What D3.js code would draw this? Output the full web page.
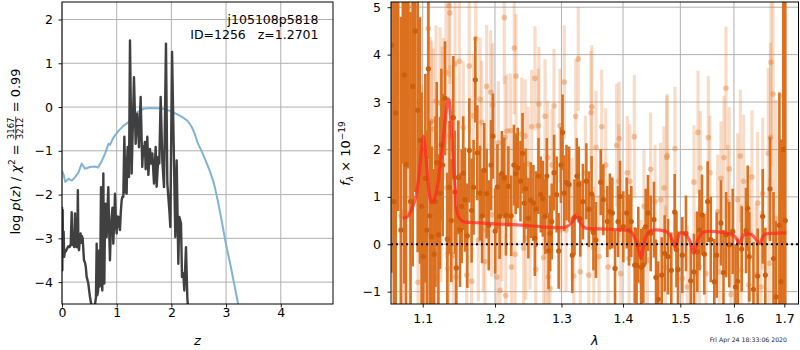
<!DOCTYPE html>
<html>
<head>
<meta charset="utf-8">
<script src="https://cdn.jsdelivr.net/npm/d3@7"></script>
<style>
  body { margin: 0; background: #fff; }
  svg { display: block; }
  text { font-family: "DejaVu Sans", sans-serif; }
</style>
</head>
<body>
<svg id="fig" width="800" height="350"></svg>
<script>
// ---------- redshift probability panel ----------
const zTicks = [0, 1, 2, 3, 4];
const logpTicks = [-4, -3, -2, -1, 0, 1, 2];

// log p(z) of the fit (z, log p)
const pzFit = [
  [0.000,-2.28],[0.006,-3.73],[0.012,-2.35],[0.020,-3.40],[0.030,-2.85],[0.040,-3.42],[0.055,-3.28],
  [0.070,-3.30],[0.085,-3.25],[0.100,-3.22],[0.115,-3.18],[0.130,-3.20],[0.146,-3.19],[0.160,-3.12],
  [0.177,-2.40],[0.190,-3.15],[0.207,-3.12],[0.222,-3.20],[0.238,-2.43],[0.252,-3.16],[0.268,-3.20],
  [0.280,-3.05],[0.290,-1.90],[0.300,-3.20],[0.311,-3.27],[0.325,-3.05],[0.341,-2.89],[0.355,-3.10],
  [0.365,-2.95],[0.378,-3.00],[0.392,-3.30],[0.402,-3.50],[0.420,-3.55],[0.435,-3.65],[0.451,-3.88],
  [0.466,-3.95],[0.481,-4.03],[0.497,-4.20],[0.512,-4.34],[0.527,-4.45],[0.542,-4.55],[0.573,-4.60],
  [0.600,-4.55],[0.621,-4.34],[0.634,-3.12],[0.645,-4.30],[0.660,-4.20],[0.682,-3.27],[0.690,-4.10],
  [0.700,-3.60],[0.713,-1.83],[0.725,-3.90],[0.737,-4.19],[0.748,-2.80],[0.756,-1.52],[0.766,-3.80],
  [0.774,-4.03],[0.786,-2.60],[0.798,-2.21],[0.808,-2.90],[0.816,-2.97],[0.830,-2.40],[0.847,-1.83],
  [0.862,-2.80],[0.877,-3.50],[0.893,-2.80],[0.908,-2.51],[0.923,-2.30],[0.938,-3.12],[0.955,-2.60],
  [0.969,-1.98],[0.985,-2.60],[0.999,-2.89],[1.015,-2.50],[1.030,-2.51],[1.045,-2.70],[1.060,-2.81],
  [1.075,-2.40],[1.091,-2.13],[1.105,-2.05],[1.121,-2.05],[1.130,-1.40],[1.140,-0.68],[1.150,-1.30],
  [1.160,-1.95],[1.172,-1.70],[1.182,-1.98],[1.192,-1.20],[1.201,-0.91],[1.212,-1.45],[1.225,-1.60],
  [1.243,1.52],[1.274,-1.52],[1.316,0.68],[1.347,-0.84],[1.360,-0.30],[1.377,-0.15],[1.408,-0.92],
  [1.438,0.23],[1.468,-1.37],[1.484,-0.90],[1.499,-1.10],[1.515,-0.80],[1.530,-1.42],[1.560,-0.68],
  [1.579,-1.55],[1.609,-0.96],[1.627,-1.29],[1.652,-1.06],[1.682,-1.75],[1.713,-0.91],[1.731,-1.82],
  [1.761,-1.14],[1.779,-1.29],[1.804,0.23],[1.834,-1.22],[1.865,-1.83],[1.901,1.45],[1.926,-1.75],
  [1.963,-2.36],[1.981,-2.74],[2.012,1.26],[2.048,-1.29],[2.072,-2.97],[2.097,-1.22],[2.127,-3.58],
  [2.145,-2.51],[2.176,-2.66],[2.194,-3.88],[2.218,-3.80],[2.236,-4.19],[2.267,-3.20],[2.291,-4.34],
  [2.310,-4.70]
];

// log of the prior curve (z, log p)
const pzPrior = [
  [0.00,-1.45],[0.03,-1.55],[0.06,-1.71],[0.12,-1.64],[0.18,-1.68],[0.24,-1.60],[0.30,-1.50],
  [0.36,-1.29],[0.42,-1.41],[0.51,-1.37],[0.60,-1.36],[0.66,-1.38],[0.72,-1.25],[0.79,-1.06],
  [0.85,-0.84],[0.88,-0.86],[0.94,-0.70],[1.03,-0.55],[1.12,-0.43],[1.21,-0.35],[1.30,-0.22],
  [1.37,-0.12],[1.49,-0.04],[1.61,-0.02],[1.73,-0.03],[1.85,-0.04],[1.98,-0.09],[2.10,-0.16],
  [2.20,-0.23],[2.30,-0.32],[2.37,-0.45],[2.43,-0.62],[2.48,-0.82],[2.55,-1.00],[2.62,-1.20],
  [2.70,-1.45],[2.78,-1.75],[2.85,-2.15],[2.92,-2.60],[2.99,-3.08],[3.08,-3.61],[3.15,-4.05],
  [3.22,-4.50],[3.26,-4.75]
];

const titleLines = ["j105108p5818", "ID=1256   z=1.2701"];

// ---------- spectrum panel ----------
const waveTicks = [1.1, 1.2, 1.3, 1.4, 1.5, 1.6, 1.7];
const fluxTicks = [-1, 0, 1, 2, 3, 4, 5];

// binned spectrum: [wavelength (um), flux, error]
const specBinned = [
  [1.0595,4.20,4.8],[1.0625,0.90,4.7],[1.0648,2.77,4.6],[1.0680,5.50,4.8],[1.0715,0.30,4.5],
  [1.0740,6.20,4.5],[1.0759,3.57,4.4],[1.0781,1.68,4.2],[1.0810,5.80,4.2],[1.0840,0.90,4.0],
  [1.0868,3.33,3.8],[1.0900,4.50,3.4],[1.0934,2.83,3.0],[1.0964,2.19,2.6],[1.0985,0.80,2.4],
  [1.1008,-0.26,2.3],[1.1035,1.39,2.2],[1.1055,0.30,2.1],[1.1075,3.70,1.9],[1.1095,0.60,2.0],
  [1.1119,0.16,1.9],[1.1151,-0.21,1.8],[1.1170,0.90,1.8],[1.1187,1.72,1.7],[1.1210,0.20,1.7],
  [1.1232,1.08,1.6],[1.1250,2.10,1.6],[1.1268,1.67,1.5],[1.1299,3.08,1.2],[1.1331,0.11,1.4],
  [1.1360,1.20,1.4],[1.1385,0.50,1.3],[1.1413,2.67,1.3],[1.1435,1.10,1.3],[1.1454,-0.50,1.3],
  [1.1482,1.41,1.2],[1.1505,0.30,1.2],[1.1528,0.80,1.2],[1.1550,1.50,1.2],[1.1574,0.94,1.1],
  [1.1607,0.18,1.1],[1.1635,1.98,1.1],[1.1667,0.71,1.1],[1.1695,1.20,1.0],[1.1719,3.47,0.9],
  [1.1747,1.93,1.0],[1.1785,1.08,1.0],[1.1815,0.60,1.0],[1.1846,1.56,1.0],[1.1880,1.07,0.95],
  [1.1910,0.40,0.95],[1.1943,1.67,0.95],[1.1970,2.28,0.9],[1.2003,0.28,0.9],[1.2035,1.21,0.9],
  [1.2068,0.59,0.9],[1.2100,1.49,0.9],[1.2134,1.40,0.85],[1.2160,0.61,0.85],[1.2195,1.22,0.85],
  [1.2236,0.60,0.85],[1.2277,1.67,0.85],[1.2303,1.49,0.85],[1.2333,1.61,0.85],[1.2374,1.33,0.85],
  [1.2405,1.92,0.85],[1.2430,0.87,0.85],[1.2451,1.17,0.85],[1.2492,0.55,0.85],[1.2527,0.93,0.8],
  [1.2568,0.87,0.8],[1.2590,0.13,0.8],[1.2609,0.74,0.8],[1.2645,1.44,0.8],[1.2680,1.05,0.8],
  [1.2711,0.96,0.8],[1.2747,0.59,0.8],[1.2772,1.44,0.8],[1.2800,-0.14,0.8],[1.2823,0.23,0.8],
  [1.2849,0.48,0.8],[1.2885,1.51,0.8],[1.2925,1.05,0.8],[1.2956,-0.14,0.8],[1.2992,1.67,0.8],
  [1.3017,2.36,0.8],[1.3043,1.08,0.8],[1.3079,1.30,0.8],[1.3120,1.26,0.8],[1.3171,-0.23,0.8],
  [1.3206,0.57,0.8],[1.3242,1.44,0.8],[1.3273,1.26,0.8],[1.3298,0.54,0.8],[1.3340,0.90,0.8],
  [1.3395,1.33,0.8],[1.3436,0.74,0.8],[1.3480,1.06,0.8],[1.3510,0.25,0.8],[1.3550,0.09,0.8],
  [1.3629,1.31,0.7],[1.3672,0.94,0.75],[1.3738,0.48,0.75],[1.3780,0.69,0.8],[1.3821,0.66,0.75],
  [1.3866,-0.51,0.8],[1.3916,0.48,0.75],[1.3950,1.01,0.75],[1.4005,0.37,0.75],[1.4062,0.66,0.75],
  [1.4101,0.30,0.75],[1.4140,0.48,0.75],[1.4198,-0.44,0.8],[1.4230,-0.45,0.8],[1.4260,-0.01,0.8],
  [1.4311,-0.48,0.8],[1.4346,-0.44,0.8],[1.4387,0.37,0.8],[1.4427,0.66,0.8],[1.4474,0.23,0.8],
  [1.4532,0.52,0.8],[1.4567,-0.70,0.8],[1.4607,-1.16,0.8],[1.4667,-0.65,0.8],[1.4720,-0.19,0.8],
  [1.4779,-0.26,0.8],[1.4838,-0.55,0.8],[1.4898,0.68,0.8],[1.4930,-0.11,0.8],[1.4958,-0.53,0.8],
  [1.5035,-0.23,0.8],[1.5102,0.23,0.8],[1.5188,-0.77,0.8],[1.5248,-0.58,0.8],[1.5309,-0.16,0.85],
  [1.5350,0.30,0.85],[1.5396,0.62,0.85],[1.5439,-0.21,0.85],[1.5502,0.90,0.85],[1.5560,0.10,0.9],
  [1.5626,-0.79,0.9],[1.5671,-0.23,0.9],[1.5752,0.45,0.9],[1.5800,-0.60,0.9],[1.5850,0.20,0.9],
  [1.5910,-0.01,0.9],[1.5976,0.27,0.9],[1.6030,-0.90,0.9],[1.6072,-0.78,0.9],[1.6150,-0.10,0.9],
  [1.6234,0.29,0.9],[1.6267,0.76,0.9],[1.6298,-0.26,0.95],[1.6380,-0.95,1.0],[1.6464,-0.67,1.0],
  [1.6564,0.59,1.0],[1.6616,-0.65,1.0],[1.6710,1.17,1.1],[1.6780,-0.30,1.4],[1.6831,-1.11,1.6],
  [1.6900,0.40,2.8],[1.6933,-0.79,3.0],[1.6980,2.00,6.0],[1.7020,0.50,6.0]
];

// unbinned spectrum: [wavelength (um), flux, error]
const specRaw = [
  [1.0639,5.30,3.2],[1.0716,0.60,3.0],[1.0745,0.68,3.0],[1.0810,5.01,2.8],[1.0819,3.42,2.8],
  [1.0833,0.66,2.6],[1.0859,2.95,2.6],[1.0938,-0.80,2.2],[1.0987,1.37,2.0],[1.1017,-0.25,2.0],
  [1.1053,1.72,1.9],[1.1074,4.55,1.8],[1.1092,0.23,1.8],[1.1100,2.57,1.8],[1.1119,2.60,1.7],
  [1.1141,2.43,1.7],[1.1177,3.02,1.6],[1.1184,-0.69,1.6],[1.1232,2.98,1.6],[1.1245,0.80,1.6],
  [1.1260,2.67,1.5],[1.1277,2.85,1.5],[1.1313,3.62,1.5],[1.1322,1.19,1.5],[1.1336,-0.51,1.5],
  [1.1344,-0.19,1.5],[1.1354,5.03,1.5],[1.1365,4.88,1.5],[1.1368,2.28,1.5],[1.1413,-0.23,1.4],
  [1.1436,3.80,1.4],[1.1447,-0.69,1.4],[1.1496,3.86,1.4],[1.1551,2.46,1.4],[1.1598,-0.65,1.4],
  [1.1634,3.76,1.4],[1.1668,-0.78,1.4],[1.1691,2.71,1.3],[1.1725,4.34,1.3],[1.1762,0.09,1.3],
  [1.1786,3.06,1.3],[1.1810,2.57,1.3],[1.1833,0.30,1.3],[1.1857,-0.37,1.3],[1.1881,3.33,1.3],
  [1.1938,3.21,1.3],[1.1952,0.62,1.3],[1.1964,2.94,1.3],[1.2029,-0.69,1.3],[1.2048,2.14,1.3],
  [1.2073,-0.97,1.3],[1.2102,0.52,1.3],[1.2135,4.78,1.4],[1.2146,2.25,1.3],[1.2156,-1.08,1.3],
  [1.2175,2.39,1.2],[1.2229,2.40,1.2],[1.2241,-0.48,1.3],[1.2282,4.14,1.4],[1.2293,-0.21,1.3],
  [1.2308,3.55,1.3],[1.2392,2.32,1.2],[1.2422,-0.08,1.3],[1.2442,2.28,1.2],[1.2454,0.13,1.3],
  [1.2487,1.70,1.2],[1.2517,0.34,1.3],[1.2542,2.48,1.2],[1.2592,3.50,1.1],[1.2604,-0.53,1.3],
  [1.2642,2.50,1.2],[1.2652,2.96,1.2],[1.2723,-0.28,1.3],[1.2745,2.70,1.2],[1.2757,-0.07,1.3],
  [1.2786,1.83,1.2],[1.2795,-0.69,1.3],[1.2822,-0.93,1.3],[1.2853,1.67,1.2],[1.2884,2.92,1.2],
  [1.2977,2.50,1.2],[1.2990,0.30,1.3],[1.3044,3.42,1.2],[1.3071,0.30,1.3],[1.3166,0.52,1.3],
  [1.3193,-0.67,1.3],[1.3225,2.70,1.2],[1.3266,3.91,1.1],[1.3298,-0.58,1.3],[1.3379,1.51,1.2],
  [1.3434,-0.65,1.3],[1.3471,2.78,1.3],[1.3484,2.90,1.3],[1.3515,-0.08,1.3],[1.3552,2.04,1.2],
  [1.3601,-0.26,1.3],[1.3645,2.48,1.2],[1.3711,1.67,1.2],[1.3749,-0.48,1.3],[1.3893,2.09,1.3],
  [1.3931,1.33,1.2],[1.3936,2.23,1.2],[1.3960,-0.62,1.3],[1.4072,1.51,1.2],[1.4101,-0.30,1.3],
  [1.4115,1.33,1.2],[1.4192,2.27,1.3],[1.4301,-0.79,1.3],[1.4358,0.80,1.2],[1.4415,-0.33,1.3],
  [1.4474,1.58,1.2],[1.4549,0.90,1.2],[1.4649,0.94,1.2],[1.4707,1.19,1.3],[1.4737,-0.48,1.3],
  [1.4755,1.83,1.3],[1.4766,1.87,1.3],[1.4904,2.02,1.3],[1.5036,-0.72,1.3],[1.5126,-0.90,1.3],
  [1.5248,1.31,1.2],[1.5279,-0.62,1.3],[1.5322,2.36,1.3],[1.5346,-0.48,1.3],[1.5365,1.61,1.2],
  [1.5471,-0.62,1.3],[1.5514,2.25,1.3],[1.5545,1.51,1.2],[1.5690,0.69,1.2],[1.5720,-0.58,1.3],
  [1.5752,1.39,1.2],[1.5809,1.83,1.3],[1.5847,3.29,1.3],[1.5879,0.90,1.2],[1.5910,1.59,1.3],
  [1.5943,-1.06,1.3],[1.6072,0.94,1.4],[1.6123,1.86,1.4],[1.6137,-0.55,1.4],[1.6189,1.33,1.4],
  [1.6287,-0.86,1.4],[1.6298,0.23,1.4],[1.6351,1.42,1.4],[1.6431,-0.65,1.5],[1.6464,0.87,1.5],
  [1.6530,-0.90,1.6],[1.6564,1.07,1.6],[1.6676,1.92,1.8],[1.6696,-0.40,1.8],[1.6720,2.25,2.0],
  [1.6730,3.84,2.2],[1.6770,3.17,2.4],[1.6831,0.55,2.5],[1.6980,3.13,3.0]
];

// best-fit model (wavelength, flux)
const modelSpec = [
  [1.0738,0.55],[1.0800,0.58],[1.0834,0.66],[1.0870,0.80],[1.0900,0.94],[1.0935,1.25],[1.0964,1.65],
  [1.0990,2.10],[1.1009,2.28],[1.1030,2.05],[1.1053,1.65],[1.1085,1.10],[1.1119,0.87],[1.1164,0.99],
  [1.1200,1.25],[1.1232,1.65],[1.1275,2.21],[1.1320,2.85],[1.1350,3.06],[1.1380,2.60],[1.1410,1.80],
  [1.1436,1.22],[1.1480,0.59],[1.1547,0.48],[1.1650,0.46],[1.1800,0.45],[1.1980,0.43],[1.2200,0.42],
  [1.2447,0.40],[1.2700,0.37],[1.2956,0.35],[1.3080,0.37],[1.3170,0.47],[1.3235,0.62],[1.3300,0.45],
  [1.3366,0.35],[1.3478,0.33],[1.3700,0.32],[1.4017,0.30],[1.4130,0.27],[1.4215,0.09],[1.4260,-0.10],
  [1.4307,-0.30],[1.4350,-0.05],[1.4385,0.15],[1.4450,0.27],[1.4642,0.30],[1.4784,0.24],[1.4850,0.10],
  [1.4906,-0.05],[1.4960,0.15],[1.5000,0.24],[1.5100,0.20],[1.5180,0.05],[1.5240,-0.19],[1.5290,0.00],
  [1.5330,0.12],[1.5420,0.25],[1.5830,0.24],[1.6013,0.17],[1.6104,0.02],[1.6193,0.20],[1.6348,0.20],
  [1.6500,0.02],[1.6590,0.20],[1.6800,0.23],[1.7040,0.24]
];

const stampText = "Fri Apr 24 18:33:06 2020";

// ---------- layout ----------
const svg = d3.select("#fig");
const defs = svg.append("defs");
const L = { x0: 62, x1: 333, y0: 2, y1: 304 };
const R = { x0: 391, x1: 798.5, y0: 2, y1: 304 };
const FONT = 12.5;
const GRID = "#b0b0b0";

function addClip(id, r) {
  defs.append("clipPath").attr("id", id).append("rect")
    .attr("x", r.x0).attr("y", r.y0).attr("width", r.x1 - r.x0).attr("height", r.y1 - r.y0);
}
addClip("clipL", L);
addClip("clipR", R);

function styleAxis(g) {
  g.select(".domain").remove();
  g.selectAll(".tick line").attr("stroke", "#000").attr("stroke-width", 0.9);
  g.selectAll(".tick text").attr("fill", "#000")
    .style("font-size", FONT + "px").style("font-family", "DejaVu Sans");
}

function grid(g, r, xs, ys, xScale, yScale) {
  g.selectAll(null).data(xs).join("line")
    .attr("x1", d => xScale(d)).attr("x2", d => xScale(d))
    .attr("y1", r.y0).attr("y2", r.y1)
    .attr("stroke", GRID).attr("stroke-width", 1);
  g.selectAll(null).data(ys).join("line")
    .attr("x1", r.x0).attr("x2", r.x1)
    .attr("y1", d => yScale(d)).attr("y2", d => yScale(d))
    .attr("stroke", GRID).attr("stroke-width", 1);
}

// rotated label built from styled pieces, centred on (x, yc)
function mathLabel(x, yc, pieces) {
  const outer = svg.append("g").attr("transform", `translate(${x},${yc}) rotate(-90)`);
  const g = outer.append("g");
  let cx = 0;
  pieces.forEach(p => {
    if (p.frac) {
      const a = g.append("text").text(p.frac[0]).attr("font-size", p.size).attr("y", p.numY);
      const b = g.append("text").text(p.frac[1]).attr("font-size", p.size).attr("y", p.denY);
      const wa = a.node().getComputedTextLength(), wb = b.node().getComputedTextLength();
      const w = Math.max(wa, wb) + 2;
      a.attr("x", cx + (w - wa) / 2);
      b.attr("x", cx + (w - wb) / 2);
      g.append("line").attr("x1", cx).attr("x2", cx + w)
        .attr("y1", p.barY).attr("y2", p.barY).attr("stroke", "#000").attr("stroke-width", 0.7);
      cx += w;
    } else {
      const t = g.append("text").text(p.t)
        .attr("x", cx).attr("y", p.dy || 0)
        .attr("font-size", p.size || 13)
        .style("font-style", p.it ? "italic" : "normal")
        .style("white-space", "pre");
      cx += t.node().getComputedTextLength();
    }
  });
  g.attr("transform", `translate(${-cx / 2},0)`);
}

// ---------- left panel ----------
const zx = d3.scaleLinear().domain([0, 4.955]).range([L.x0, L.x1]);
const zy = d3.scaleLinear().domain([-4.5, 2.4]).range([L.y1, L.y0]);

const gL = svg.append("g");
grid(gL.append("g"), L, zTicks, logpTicks, zx, zy);

const zLine = d3.line().x(d => zx(d[0])).y(d => zy(d[1]));
const plotL = gL.append("g").attr("clip-path", "url(#clipL)");
plotL.append("path").datum(pzPrior).attr("d", zLine)
  .attr("fill", "none").attr("stroke", "rgb(128,178,214)").attr("stroke-width", 2)
  .attr("stroke-linejoin", "round");
plotL.append("path").datum(pzFit).attr("d", zLine)
  .attr("fill", "none").attr("stroke", "#404040").attr("stroke-width", 2.4)
  .attr("stroke-linejoin", "round");

gL.append("g").attr("transform", `translate(0,${L.y1})`)
  .call(d3.axisBottom(zx).tickValues(zTicks).tickSize(3.5).tickPadding(1).tickFormat(d3.format("d")))
  .call(styleAxis);
gL.append("g").attr("transform", `translate(${L.x0},0)`)
  .call(d3.axisLeft(zy).tickValues(logpTicks).tickSize(3.5).tickPadding(5.5).tickFormat(d3.format("d")))
  .call(styleAxis);

gL.append("rect").attr("x", L.x0).attr("y", L.y0)
  .attr("width", L.x1 - L.x0).attr("height", L.y1 - L.y0)
  .attr("fill", "none").attr("stroke", "#000").attr("stroke-width", 1);

gL.selectAll(".title").data(titleLines).join("text")
  .attr("x", 318.5).attr("y", (d, i) => 24 + i * 14.5)
  .attr("text-anchor", "end").attr("font-size", FONT)
  .style("white-space", "pre").text(d => d);

gL.append("text").attr("x", (L.x0 + L.x1) / 2).attr("y", 345)
  .attr("text-anchor", "middle").attr("font-size", 13).style("font-style", "italic").text("z");

mathLabel(20, 151.5, [
  { t: "log " }, { t: "p", it: true }, { t: "(" }, { t: "z", it: true }, { t: ")" },
  { t: " / " }, { t: "χ", it: true }, { t: "2", size: 9, dy: -5.5 }, { t: " = " },
  { frac: ["3167", "3212"], size: 8.5, numY: -6, denY: 2.5, barY: -4.3 },
  { t: " = 0.99" }
]);

// ---------- right panel ----------
const lx = d3.scaleLog().domain([1.0588, 1.7293]).range([R.x0, R.x1]);
const fy = d3.scaleLinear().domain([-1.26, 5.11]).range([R.y1, R.y0]);

const gR = svg.append("g");
grid(gR.append("g"), R, waveTicks, fluxTicks, lx, fy);

const plotR = gR.append("g").attr("clip-path", "url(#clipR)");

function errorbars(g, data, barColor, barWidth, dotColor, radius) {
  g.append("g").selectAll("line").data(data).join("line")
    .attr("x1", d => lx(d[0])).attr("x2", d => lx(d[0]))
    .attr("y1", d => fy(d[1] - d[2])).attr("y2", d => fy(d[1] + d[2]))
    .attr("stroke", barColor).attr("stroke-width", barWidth);
  g.append("g").selectAll("circle").data(data).join("circle")
    .attr("cx", d => lx(d[0])).attr("cy", d => fy(d[1])).attr("r", radius)
    .attr("fill", dotColor);
}

errorbars(plotR, specRaw, "rgba(228,125,50,0.27)", 3.2, "rgba(228,125,50,0.42)", 2.8);
errorbars(plotR, specBinned, "rgb(219,113,32)", 2.6, "rgb(205,94,12)", 2.6);

plotR.append("path").datum(modelSpec)
  .attr("d", d3.line().x(d => lx(d[0])).y(d => fy(d[1])).curve(d3.curveCatmullRom.alpha(0.5)))
  .attr("fill", "none").attr("stroke", "rgb(255,40,30)").attr("stroke-opacity", 0.72)
  .attr("stroke-width", 3.2).attr("stroke-linejoin", "round");

plotR.append("line").attr("x1", R.x0).attr("x2", R.x1)
  .attr("y1", fy(0)).attr("y2", fy(0))
  .attr("stroke", "#000").attr("stroke-width", 2).attr("stroke-dasharray", "2,3");

gR.append("g").attr("transform", `translate(0,${R.y1})`)
  .call(d3.axisBottom(lx).tickValues(waveTicks).tickSize(3.5).tickPadding(6.5).tickFormat(d3.format(".1f")))
  .call(styleAxis);
gR.append("g").attr("transform", `translate(${R.x0},0)`)
  .call(d3.axisLeft(fy).tickValues(fluxTicks).tickSize(3.5).tickPadding(6.5).tickFormat(d3.format("d")))
  .call(styleAxis);

gR.append("rect").attr("x", R.x0).attr("y", R.y0)
  .attr("width", R.x1 - R.x0).attr("height", R.y1 - R.y0)
  .attr("fill", "none").attr("stroke", "#000").attr("stroke-width", 1);

gR.append("text").attr("x", (R.x0 + R.x1) / 2).attr("y", 345)
  .attr("text-anchor", "middle").attr("font-size", 13).style("font-style", "italic").text("λ");

mathLabel(350, 153.5, [
  { t: "f", it: true }, { t: "λ", it: true, size: 9, dy: 3 },
  { t: " × 10" }, { t: "−19", size: 9, dy: -5.5 }
]);

svg.append("text").attr("x", 787).attr("y", 342)
  .attr("text-anchor", "end").attr("font-size", 6.2).attr("fill", "#222").text(stampText);
</script>
</body>
</html>
